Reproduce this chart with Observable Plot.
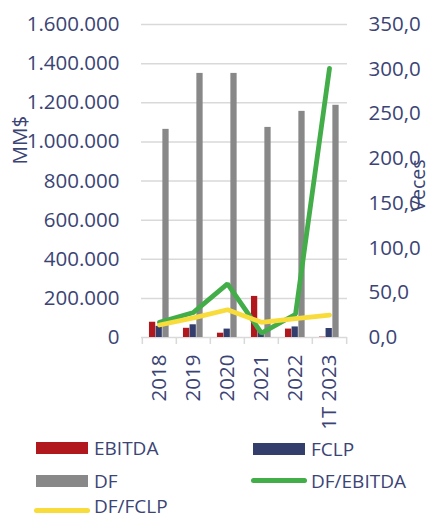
<!DOCTYPE html>
<html>
<head>
<meta charset="utf-8">
<script src="https://cdn.jsdelivr.net/npm/d3@7"></script>
<script src="https://cdn.jsdelivr.net/npm/@observablehq/plot@0.6"></script>
<style>
  html, body { margin: 0; padding: 0; background: #ffffff; }
  #wrap { position: relative; width: 432px; height: 519px; font-family: "Open Sans", sans-serif; color: #3b4475; }
  .lg { position: absolute; display: flex; align-items: center; height: 18px; font-size: 19px; line-height: 18px; white-space: nowrap; }
  .sw { display: inline-block; position: relative; }
</style>
</head>
<body>
<div id="wrap"></div>
<script>
// ---- data ----
const categories = ["2018", "2019", "2020", "2021", "2022", "1T 2023"];
const ebitda = [78000, 47000, 22000, 210000, 43000, 2000];
const fclp = [57000, 65000, 43000, 30000, 54000, 46000];
const df = [1064000, 1350000, 1350000, 1074000, 1156000, 1187000];
const dfEbitda = [17, 28, 60, 5, 26, 301];
const dfFclp = [14, 22, 31, 17, 21, 25];
const leftTicks = [0, 200000, 400000, 600000, 800000, 1000000, 1200000, 1400000, 1600000];
const rightTicks = [0, 50, 100, 150, 200, 250, 300, 350];
const seriesNames = ["EBITDA", "FCLP", "DF", "DF/EBITDA", "DF/FCLP"];
const leftLabel = "MM$";
const rightLabel = "Veces";

// ---- styles ----
const colors = { EBITDA: "#b0181d", FCLP: "#333e6d", DF: "#888888", "DF/EBITDA": "#43ad49", "DF/FCLP": "#f7dc3c" };
const textColor = "#3b4475";
const gridColor = "#d9d9d9";

const rows = categories.map((c, i) => ({ cat: c, ebitda: ebitda[i], fclp: fclp[i], df: df[i], dfEbitda: dfEbitda[i], dfFclp: dfFclp[i] }));

const K = leftTicks[leftTicks.length - 1] / rightTicks[rightTicks.length - 1];
const loc = d3.formatLocale({ decimal: ",", thousands: ".", grouping: [3], currency: ["", "$"] });
const fmtLeft = loc.format(",.0f");
const fmtRight = loc.format(".1f");

const W = 432, H = 432, mL = 141, mR = 85, mT = 24, mB = 95;
const band = (W - mL - mR) / categories.length;
const barW = 6.6;
const inset = (band - barW) / 2;
const fs = 20.5;

const chart = Plot.plot({
  width: W, height: H,
  marginLeft: mL, marginRight: mR, marginTop: mT, marginBottom: mB,
  style: { fontFamily: "Open Sans", fontSize: fs + "px", color: textColor, background: "transparent", overflow: "visible" },
  x: { type: "band", domain: categories, padding: 0, axis: null },
  y: { domain: [leftTicks[0], leftTicks[leftTicks.length - 1]], axis: null },
  marks: [
    Plot.gridY(leftTicks, { stroke: gridColor, strokeOpacity: 1, strokeWidth: 1.5 }),
    Plot.axisY(leftTicks, { anchor: "left", tickSize: 0, tickPadding: 22, tickFormat: fmtLeft, label: null, fontSize: fs }),
    Plot.axisY(rightTicks.map(v => v * K), { anchor: "right", tickSize: 0, tickPadding: 21, tickFormat: d => fmtRight(d / K), label: null, fontSize: fs }),
    Plot.axisX({ tickSize: 7, tickFormat: () => "", dx: -band / 2, stroke: gridColor, strokeWidth: 1.5, label: null }),
    Plot.axisX([categories[categories.length - 1]], { tickSize: 7, tickFormat: () => "", dx: band / 2, stroke: gridColor, strokeWidth: 1.5, label: null }),
    Plot.axisX({ tickSize: 0, tickPadding: 17, tickRotate: -90, label: null, fontSize: fs }),
    Plot.barY(rows, { x: "cat", y: "ebitda", fill: colors.EBITDA, insetLeft: inset, insetRight: inset, dx: -6.9 }),
    Plot.barY(rows, { x: "cat", y: "fclp", fill: colors.FCLP, insetLeft: inset, insetRight: inset, dx: -0.3 }),
    Plot.barY(rows, { x: "cat", y: "df", fill: colors.DF, insetLeft: inset, insetRight: inset, dx: 6.5 }),
    Plot.line(rows, { x: "cat", y: d => d.dfEbitda * K, stroke: colors["DF/EBITDA"], strokeWidth: 4.8, strokeLinejoin: "miter", strokeLinecap: "round" }),
    Plot.line(rows, { x: "cat", y: d => d.dfFclp * K, stroke: colors["DF/FCLP"], strokeWidth: 4.8, strokeLinejoin: "miter", strokeLinecap: "round" }),
    Plot.text([leftLabel], { frameAnchor: "left", rotate: -90, dx: 20 - mL, dy: -16.5, fontSize: fs, fill: textColor }),
    Plot.text([rightLabel], { frameAnchor: "right", rotate: -90, dx: 418 - (W - mR), dy: -21.5, fontSize: 19.5, fill: textColor })
  ]
});

const wrap = document.getElementById("wrap");
chart.style.position = "absolute";
chart.style.left = "0px";
chart.style.top = "0px";
wrap.appendChild(chart);

// ---- legend (HTML, below the svg) ----
const legendItems = [
  { name: seriesNames[0], kind: "rect", left: 36, cy: 448, swShift: 0 },
  { name: seriesNames[1], kind: "rect", left: 253, cy: 448.5, swShift: 0 },
  { name: seriesNames[2], kind: "rect", left: 36, cy: 481, swShift: 0 },
  { name: seriesNames[3], kind: "line", left: 251, cy: 480.5, swShift: 0 },
  { name: seriesNames[4], kind: "line", left: 34, cy: 505.5, swShift: 5 }
];
for (const it of legendItems) {
  const d = document.createElement("div");
  d.className = "lg";
  d.style.left = it.left + "px";
  d.style.top = (it.cy - 9) + "px";
  const s = document.createElement("span");
  s.className = "sw";
  s.style.top = it.swShift + "px";
  if (it.kind === "rect") {
    s.style.width = "52px"; s.style.height = "12px"; s.style.marginRight = "6px";
  } else {
    s.style.width = "56px"; s.style.height = "5px"; s.style.borderRadius = "2.5px"; s.style.marginRight = "4px";
  }
  s.style.background = colors[it.name];
  const t = document.createElement("span");
  t.textContent = it.name;
  d.appendChild(s);
  d.appendChild(t);
  wrap.appendChild(d);
}
</script>
</body>
</html>
